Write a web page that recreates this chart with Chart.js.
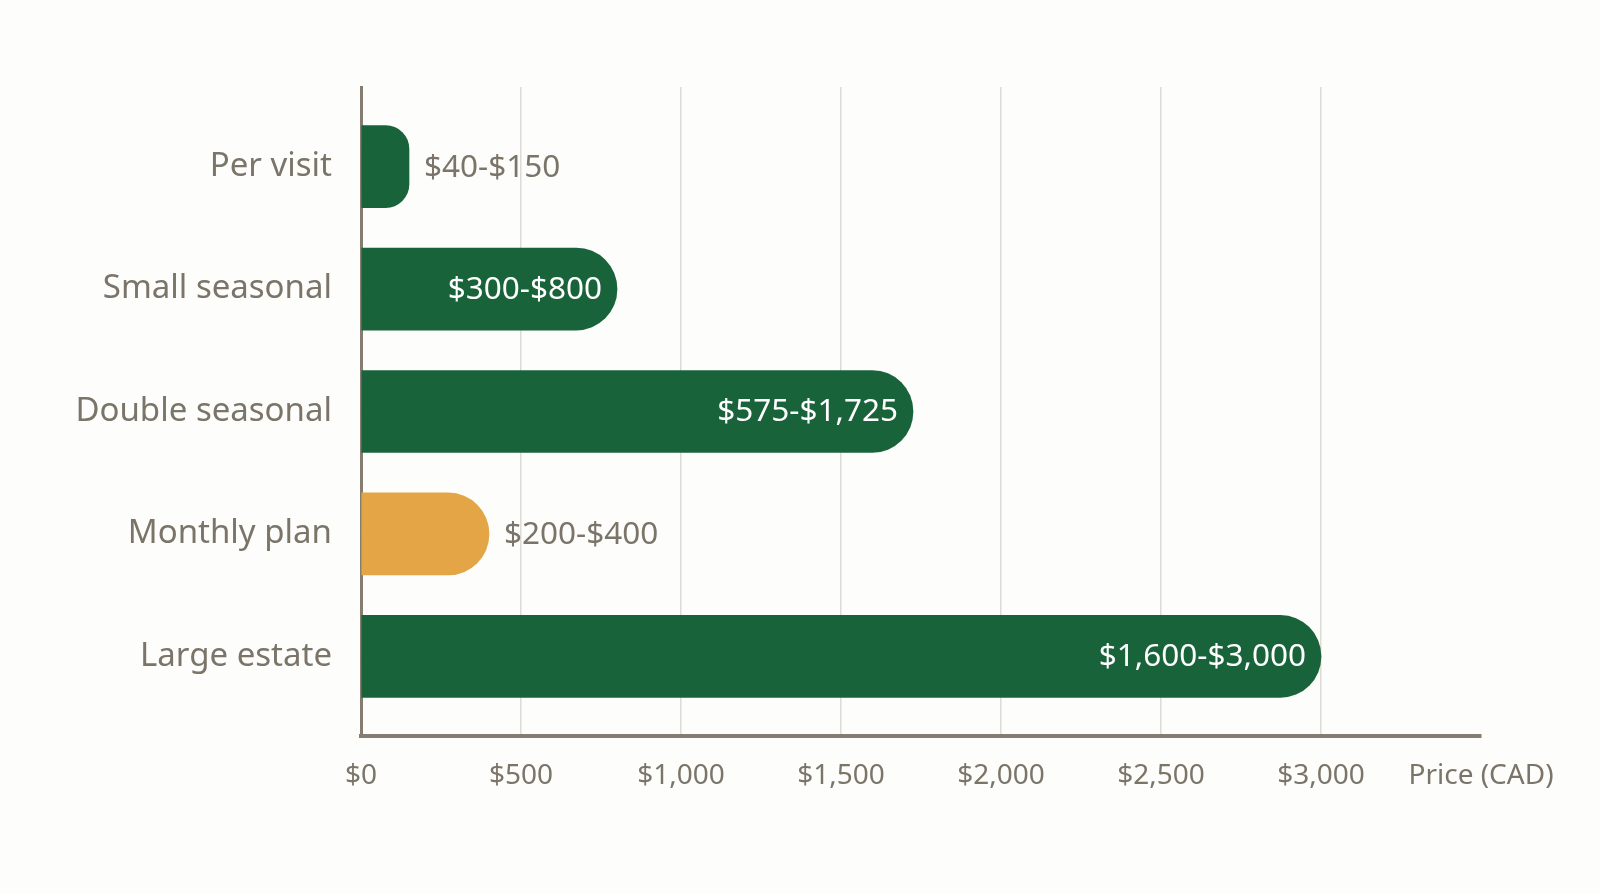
<!DOCTYPE html>
<html lang="en">
  <head>
    <meta charset="UTF-8" />
    <title>Lawn care pricing (CAD)</title>
    <script src="https://cdn.jsdelivr.net/npm/chart.js@4.4.1/dist/chart.umd.min.js"></script>
    <style>
      html, body { margin: 0; padding: 0; background: #fdfdfc; }
      #wrap { width: 1600px; height: 893px; }
    </style>
  </head>
  <body>
    <div id="wrap"><canvas id="myChart"></canvas></div>

    <script>
      // services and their price ranges (CAD)
      const categories = ['Per visit', 'Small seasonal', 'Double seasonal', 'Monthly plan', 'Large estate'];
      const priceLow = [40, 300, 575, 200, 1600];
      const priceHigh = [150, 800, 1725, 400, 3000];
      const xTicks = [0, 500, 1000, 1500, 2000, 2500, 3000];
      const axisTitle = 'Price (CAD)';
      const highlighted = 'Monthly plan';

      const GREEN = '#18633a';
      const ORANGE = '#e3a545';
      const TEXT = '#7b7468';
      const AXIS = '#857d71';
      const GRID = '#dedbd6';
      const FONT = '"Noto Sans", sans-serif';

      const money = v => '$' + v.toLocaleString('en-US');
      const rangeText = categories.map((c, i) => money(priceLow[i]) + '-' + money(priceHigh[i]));

      // range labels drawn at the end of each bar, inside when they fit
      const barLabels = {
        id: 'barLabels',
        afterDatasetsDraw(chart) {
          const ctx = chart.ctx;
          const meta = chart.getDatasetMeta(0);
          ctx.save();
          ctx.font = '31.5px ' + FONT;
          ctx.textBaseline = 'middle';
          meta.data.forEach((bar, i) => {
            const txt = rangeText[i];
            const w = ctx.measureText(txt).width;
            const len = bar.x - bar.base;
            if (len > w + 36) {
              ctx.fillStyle = '#ffffff';
              ctx.textAlign = 'right';
              ctx.fillText(txt, bar.x - 15, bar.y + 1);
            } else {
              ctx.fillStyle = TEXT;
              ctx.textAlign = 'left';
              ctx.fillText(txt, bar.x + 15, bar.y + 1);
            }
          });
          ctx.restore();
        }
      };

      const ctx = document.getElementById('myChart').getContext('2d');
      const myChart = new Chart(ctx, {
        type: 'bar',
        data: {
          datasets: [{
            data: categories.map((c, i) => ({ x: priceHigh[i], y: i })),
            backgroundColor: categories.map(c => c === highlighted ? ORANGE : GREEN),
            barThickness: 82,
            borderRadius: { topRight: 41, bottomRight: 41, topLeft: 0, bottomLeft: 0 },
            borderSkipped: 'start'
          }]
        },
        options: {
          indexAxis: 'y',
          responsive: true,
          maintainAspectRatio: false,
          animation: false,
          layout: { padding: { top: 87, right: 119, left: 0, bottom: 0 } },
          plugins: {
            legend: { display: false },
            tooltip: { enabled: false }
          },
          scales: {
            x: {
              type: 'linear',
              min: 0,
              max: 3500,
              afterBuildTicks: scale => {
                scale.ticks = xTicks.concat([3500]).map(v => ({ value: v }));
              },
              afterFit: scale => { scale.height = 157; },
              ticks: {
                color: TEXT,
                font: { family: FONT, size: 28 },
                padding: 23,
                maxRotation: 0,
                autoSkip: false,
                callback: v => v === 3500 ? axisTitle : money(v)
              },
              grid: {
                drawTicks: false,
                lineWidth: 1.5,
                color: c => (c.tick && (c.tick.value === 0 || c.tick.value === 3500)) ? 'rgba(0,0,0,0)' : GRID
              },
              border: { display: true, color: AXIS, width: 4 }
            },
            y: {
              type: 'linear',
              reverse: true,
              offset: false,
              min: -0.65,
              max: 4.65,
              afterBuildTicks: scale => {
                scale.ticks = categories.map((c, i) => ({ value: i }));
              },
              afterFit: scale => { scale.width = 361; },
              ticks: {
                color: TEXT,
                font: { family: FONT, size: 33 },
                padding: 29,
                autoSkip: false,
                callback: v => categories[v]
              },
              grid: { display: false, drawTicks: false },
              border: { display: true, color: AXIS, width: 3 }
            }
          }
        },
        plugins: [barLabels]
      });
    </script>
  </body>
</html>
